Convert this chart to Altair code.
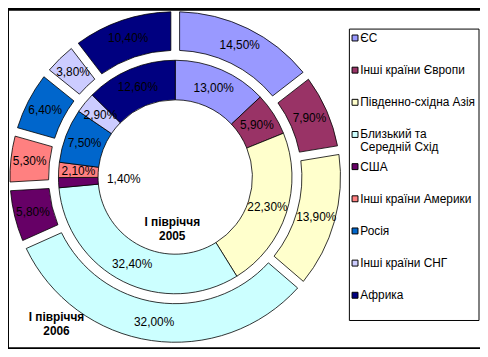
import altair as alt
import pandas as pd

categories = ["ЄС", "Інші країни Європи", "Південно-східна Азія",
              "Близький та Середній Схід", "США", "Інші країни Америки",
              "Росія", "Інші країни СНГ", "Африка"]
colors = ["#9999FF", "#993366", "#FFFFCC", "#CCFFFF", "#660066",
          "#FF8080", "#0066CC", "#CCCCFF", "#000080"]
share_2005 = [13.0, 5.9, 22.3, 32.4, 1.4, 2.1, 7.5, 2.9, 12.6]
share_2006 = [14.5, 7.9, 13.9, 32.0, 5.8, 5.3, 6.4, 3.8, 10.4]
period_label = "І півріччя"
years = ["2005", "2006"]

FONT = "Liberation Sans"
OX, OY = 8, 8          # page offset of the plot area
CX, CY = 176 - OX, 176 - OY

inner = pd.DataFrame({"cat": categories, "value": share_2005, "order": list(range(len(categories)))})
outer = pd.DataFrame({"cat": categories, "value": share_2006, "order": list(range(len(categories)))})

color = alt.Color("cat:N", scale=alt.Scale(domain=categories, range=colors), legend=None)
fmt = "replace(format(datum.value, '.2f'), '.', ',') + '%'"


def ring(df, r_in, r_out, pad, label_r, small_r=None):
    base = alt.Chart(df).transform_calculate(lab=fmt).encode(
        theta=alt.Theta("value:Q", stack=True),
        order=alt.Order("order:Q"),
        x=alt.value(CX), y=alt.value(CY),
    )
    arcs = base.mark_arc(radius=r_out, radius2=r_in, padAngle=pad,
                         stroke="black", strokeWidth=0.8).encode(color=color)
    txt_props = dict(fontSize=12, font=FONT, color="black",
                     align="center", baseline="middle")
    if small_r is None:
        labels = base.mark_text(radius=label_r, **txt_props).encode(
            detail="cat:N", text="lab:N")
        return [arcs, labels]
    big = base.mark_text(radius=label_r, **txt_props).encode(
        detail="cat:N",
        text=alt.condition("datum.value >= 2", alt.Text("lab:N"), alt.value("")))
    small = base.mark_text(radius=small_r, **txt_props).encode(
        detail="cat:N",
        text=alt.condition("datum.value < 2", alt.Text("lab:N"), alt.value("")))
    return [arcs, big, small]


inner_layers = ring(inner, 78, 118, 0, 98, small_r=52)
outer_layers = ring(outer, 128, 167, 0.042, 148)

titles = pd.DataFrame({"period": [period_label] * 2, "year": years})
title_base = alt.Chart(titles).transform_calculate(
    t="datum.period + '|' + datum.year"
).mark_text(fontSize=12, font=FONT, fontWeight="bold", color="black",
            align="center", baseline="alphabetic", lineBreak="|", lineHeight=14)
title_2005 = title_base.transform_filter("datum.year == '2005'").encode(
    x=alt.value(173 - OX), y=alt.value(226 - OY), text="t:N")
title_2006 = title_base.transform_filter("datum.year == '2006'").encode(
    x=alt.value(56 - OX), y=alt.value(322 - OY), text="t:N")

leg_df = pd.DataFrame({"cat": categories})
leg_y = alt.Y("cat:N", sort=categories,
              scale=alt.Scale(type="point", range=[35.5 - OY, 295.5 - OY], padding=0),
              axis=None)
leg_box = alt.Chart(pd.DataFrame({"k": [0]})).mark_rect(
    fill="white", stroke="black", strokeWidth=1
).encode(x=alt.value(352 - OX), x2=alt.value(483 - OX),
         y=alt.value(26.5 - OY), y2=alt.value(321 - OY))
leg_sym = alt.Chart(leg_df).mark_square(
    size=36, stroke="black", strokeWidth=1, opacity=1
).encode(x=alt.value(357.7 - OX), y=leg_y, color=color)
leg_txt = alt.Chart(leg_df).transform_calculate(
    t="replace(datum.cat, 'та ', 'та|')"
).mark_text(align="left", baseline="alphabetic", dy=4, lineBreak="|",
            lineHeight=13, fontSize=12, font=FONT, color="black").encode(
    x=alt.value(363 - OX), y=leg_y, text="t:N")

chart = alt.layer(
    *outer_layers, *inner_layers, title_2005, title_2006,
    leg_box, leg_sym, leg_txt
).resolve_scale(theta="independent").properties(
    width=477, height=341,
    background="black",
    padding={"left": 0, "top": 0, "right": 0, "bottom": 0},
    autosize=alt.AutoSizeParams(type="fit", contains="padding"),
).configure_view(fill="white", stroke=None)

chart.save("out.html", embed_options={"renderer": "svg", "actions": False})
